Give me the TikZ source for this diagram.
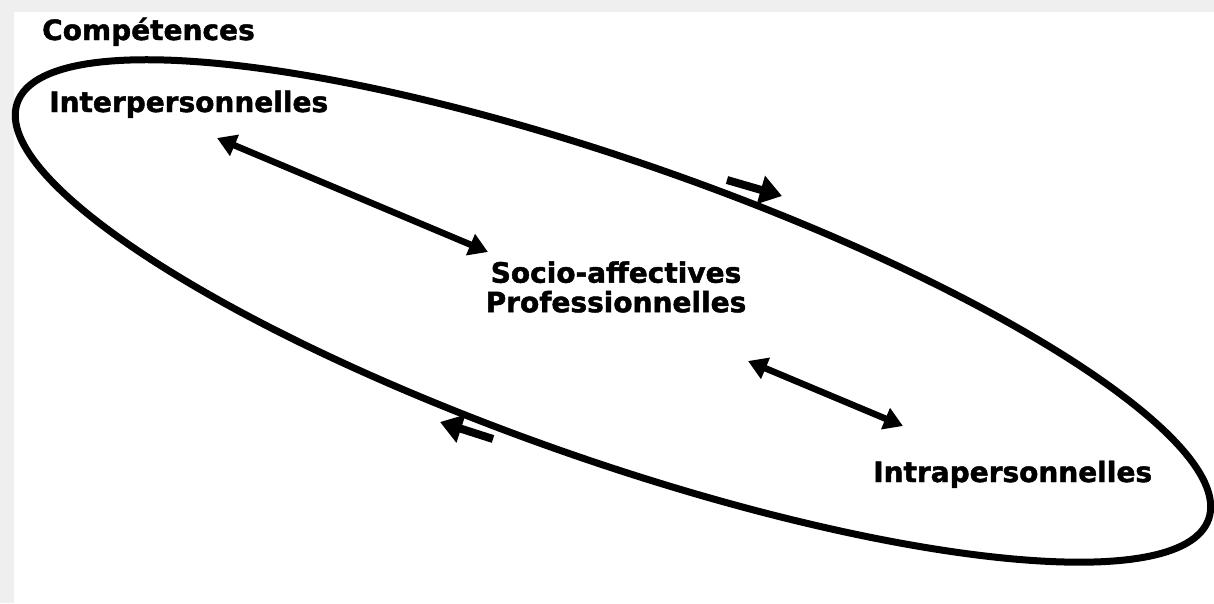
\documentclass[tikz,border=0pt]{standalone}
\usepackage{fontspec}
\setmainfont{DejaVu Sans}[BoldFeatures={FakeBold=1.6}]
\usetikzlibrary{arrows.meta}
\definecolor{bordergray}{HTML}{EFEFEF}
\begin{document}
\begin{tikzpicture}[x=1pt,y=-1pt,
  lbl/.style={font=\bfseries\fontsize{28}{29.5}\selectfont, inner sep=0pt},
  ring/.style={line width=7pt, draw=black},
  twoway/.style={line width=6.5pt, {Triangle[length=19pt,width=22pt]}-{Triangle[length=19pt,width=22pt]}},
  flow/.style={line width=8pt, -{Triangle[length=22pt,width=28pt]}}]
\useasboundingbox (0,0) rectangle (1214,603);
\fill[bordergray] (0,0) rectangle (1214,603);
\fill[white] (14,12) rectangle (1214,603);
% outline
\coordinate (c) at (613,311);
\draw[ring, rotate around={-19.26:(c)}] (c) ellipse [x radius=631, y radius=149];
% labels
\node[lbl, anchor=base west] (comp) at (42,40) {Compétences};
\node[lbl, anchor=base west] (inter) at (49,112) {Interpersonnelles};
\node[lbl, align=center] (socio) at (616,287) {Socio-affectives\\Professionnelles};
\node[lbl, anchor=base west] (intra) at (873,482) {Intrapersonnelles};
% double arrows
\coordinate (a1s) at (217,138);
\coordinate (a1e) at (488,252);
\coordinate (a2s) at (748,361);
\coordinate (a2e) at (903,426);
\draw[twoway] (a1s) -- (a1e);
\draw[twoway] (a2s) -- (a2e);
% circulation arrows
\coordinate (f1s) at (727,180);
\coordinate (f1e) at (782,196);
\coordinate (f2s) at (493,439);
\coordinate (f2e) at (440,422);
\draw[flow] (f1s) -- (f1e);
\draw[flow] (f2s) -- (f2e);
\end{tikzpicture}
\end{document}
